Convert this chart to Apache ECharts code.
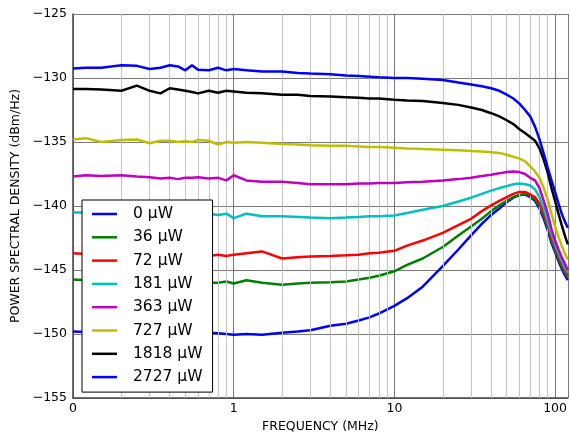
<!DOCTYPE html>
<html>
<head>
<meta charset="utf-8">
<script src="https://cdn.jsdelivr.net/npm/echarts@6/dist/echarts.min.js"></script>
<style>
  html, body { margin: 0; padding: 0; background: #fff; }
  #chart { width: 570px; height: 438px; }
</style>
</head>
<body>
<div id="chart"></div>
<script>
// frequency points (MHz) shared by all traces
var freqs = [0.1, 0.12, 0.15, 0.2, 0.25, 0.3, 0.35, 0.4, 0.45, 0.5,
  0.55, 0.6, 0.7, 0.8, 0.9, 1, 1.2, 1.5, 2, 2.5,
  3, 4, 5, 6, 7, 8, 10, 12, 15, 20,
  25, 30, 35, 40, 45, 50, 55, 60, 65, 70,
  75, 80, 85, 90, 95, 100, 105, 110, 115, 120]

// power spectral density, dBm/Hz
var p0 = [-149.8, -149.85, -149.9, -149.85, -149.95, -149.9, -150.0, -149.9, -150.0, -149.95,
  -149.9, -150.0, -149.9, -149.95, -150.0, -150.05, -150.0, -150.05, -149.9, -149.8,
  -149.7, -149.35, -149.2, -148.95, -148.7, -148.4, -147.8, -147.2, -146.3, -144.7,
  -143.4, -142.3, -141.4, -140.7, -140.2, -139.7, -139.35, -139.15, -139.1, -139.3,
  -139.6, -140.2, -141.0, -141.9, -142.9, -143.6, -144.3, -144.9, -145.4, -145.8]
var p36 = [-145.75, -145.8, -145.85, -145.9, -145.85, -145.95, -145.9, -146.0, -145.9, -146.0,
  -145.95, -146.0, -146.0, -146.0, -145.9, -146.05, -145.8, -146.0, -146.15, -146.05,
  -146.0, -145.95, -145.9, -145.75, -145.6, -145.45, -145.1, -144.6, -144.1, -143.2,
  -142.3, -141.6, -141.0, -140.4, -139.95, -139.6, -139.3, -139.15, -139.05, -139.2,
  -139.5, -140.0, -140.8, -141.7, -142.7, -143.4, -144.1, -144.7, -145.2, -145.6]
var p72 = [-143.7, -143.75, -143.8, -143.85, -143.8, -143.9, -143.85, -143.9, -143.8, -143.9,
  -143.85, -143.9, -143.9, -143.8, -143.9, -143.8, -143.7, -143.55, -144.1, -144.0,
  -143.95, -143.9, -143.85, -143.8, -143.7, -143.65, -143.5, -143.1, -142.7, -142.1,
  -141.5, -141.0, -140.4, -139.95, -139.6, -139.3, -139.05, -138.9, -138.9, -139.1,
  -139.3, -139.8, -140.6, -141.5, -142.5, -143.2, -143.9, -144.5, -145.0, -145.4]
var p181 = [-140.5, -140.5, -140.55, -140.5, -140.6, -140.55, -140.6, -140.5, -140.6, -140.55,
  -140.6, -140.55, -140.6, -140.7, -140.6, -140.95, -140.6, -140.8, -140.8, -140.85,
  -140.9, -140.95, -140.9, -140.85, -140.8, -140.8, -140.75, -140.55, -140.3, -140.0,
  -139.65, -139.35, -139.05, -138.8, -138.6, -138.45, -138.3, -138.25, -138.3, -138.4,
  -138.7, -139.3, -140.2, -141.2, -142.2, -143.0, -143.7, -144.3, -144.8, -145.2]
var p363 = [-137.7, -137.6, -137.65, -137.6, -137.7, -137.75, -137.85, -137.8, -137.9, -137.8,
  -137.8, -137.75, -137.85, -137.8, -138.0, -137.6, -138.0, -138.1, -138.1, -138.2,
  -138.3, -138.3, -138.3, -138.25, -138.25, -138.2, -138.2, -138.15, -138.1, -138.0,
  -137.9, -137.8, -137.65, -137.55, -137.45, -137.35, -137.3, -137.35, -137.5, -137.8,
  -138.0, -138.6, -139.6, -140.6, -141.8, -142.7, -143.4, -144.0, -144.5, -145.0]
var p727 = [-134.8, -134.7, -135.0, -134.85, -134.8, -135.1, -134.9, -134.9, -135.0, -134.95,
  -135.0, -134.85, -134.9, -135.2, -135.0, -135.05, -135.0, -135.05, -135.15, -135.2,
  -135.25, -135.3, -135.3, -135.35, -135.4, -135.4, -135.45, -135.5, -135.55, -135.6,
  -135.65, -135.7, -135.75, -135.8, -135.85, -136.0, -136.15, -136.3, -136.5, -136.9,
  -137.3, -137.8, -138.6, -139.5, -140.6, -141.6, -142.4, -143.1, -143.7, -144.2]
var p1818 = [-130.85, -130.85, -130.9, -131.0, -130.6, -131.0, -131.2, -130.8, -130.9, -131.0,
  -131.1, -131.2, -131.0, -131.15, -131.0, -131.05, -131.15, -131.2, -131.3, -131.3,
  -131.4, -131.45, -131.5, -131.55, -131.6, -131.6, -131.7, -131.75, -131.8, -131.95,
  -132.1, -132.3, -132.5, -132.75, -133.0, -133.3, -133.6, -134.0, -134.3, -134.6,
  -134.9, -135.5, -136.4, -137.4, -138.6, -139.6, -140.6, -141.5, -142.3, -143.0]
var p2727 = [-129.25, -129.2, -129.2, -129.0, -129.05, -129.3, -129.2, -129.0, -129.1, -129.4,
  -129.0, -129.35, -129.4, -129.2, -129.4, -129.3, -129.4, -129.5, -129.5, -129.6,
  -129.65, -129.7, -129.8, -129.85, -129.9, -129.95, -130.0, -130.0, -130.05, -130.15,
  -130.35, -130.5, -130.65, -130.8, -131.0, -131.3, -131.6, -132.0, -132.5, -133.0,
  -133.8, -134.8, -135.9, -137.0, -138.0, -138.9, -139.8, -140.6, -141.2, -141.7]

var names = ['0 µW', '36 µW', '72 µW', '181 µW', '363 µW', '727 µW', '1818 µW', '2727 µW']
var colors = ['#0000ff', '#008000', '#ff0000', '#00bfbf', '#bf00bf', '#bfbf00', '#000000', '#0000ff']
var traces = [p0, p36, p72, p181, p363, p727, p1818, p2727]

// light vertical grid lines between decades
var minorFreqs = [0.2, 0.3, 0.4, 0.5, 0.6, 0.7, 0.8, 0.9,
  2, 3, 4, 5, 6, 7, 8, 9, 20, 30, 40, 50, 60, 70, 80, 90]

var font = 'DejaVu Sans'

var series = [{
  name: 'grid',
  type: 'line',
  data: [],
  z: 1,
  markLine: {
    silent: true,
    animation: false,
    symbol: ['none', 'none'],
    label: {show: false},
    lineStyle: {color: '#c4c4c4', type: 'solid', width: 1},
    data: minorFreqs.map(function (f) { return {xAxis: f} })
  }
}]
traces.forEach(function (vals, k) {
  series.push({
    name: names[k],
    type: 'line',
    showSymbol: false,
    symbol: 'none',
    z: 3 + k,
    color: colors[k],
    lineStyle: {color: colors[k], width: 2.5},
    data: freqs.map(function (f, i) { return [f, vals[i]] })
  })
})

var chart = echarts.init(document.getElementById('chart'))
chart.setOption({
  animation: false,
  backgroundColor: '#fff',
  grid: {left: 73, top: 14, width: 499, height: 386},
  legend: {
    data: names,
    z: 20,
    orient: 'vertical',
    left: 82,
    top: 200,
    icon: 'rect',
    itemWidth: 25,
    itemHeight: 2.5,
    itemGap: 7.3,
    padding: [6, 10, 7, 10],
    borderColor: '#000',
    borderWidth: 1,
    borderRadius: 0,
    backgroundColor: '#fff',
    textStyle: {fontFamily: font, fontSize: 15.5, color: '#000', padding: [0, 0, 0, 11]}
  },
  xAxis: {
    type: 'log',
    logBase: 10,
    min: 0.1,
    max: 120,
    name: 'FREQUENCY (MHz)',
    nameLocation: 'middle',
    nameGap: 22,
    nameTextStyle: {fontFamily: font, fontSize: 12.5, color: '#000'},
    axisLine: {show: true, lineStyle: {color: '#444', width: 1.5}},
    axisTick: {show: false},
    axisLabel: {
      fontFamily: font, fontSize: 12.5, color: '#000', margin: 4,
      showMaxLabel: false,
      formatter: function (v) {
        if (Math.abs(v - 0.1) < 1e-9) return '0'
        if (Math.abs(v - 1) < 1e-9) return '1'
        if (Math.abs(v - 10) < 1e-9) return '10'
        if (Math.abs(v - 100) < 1e-9) return '100'
        return ''
      }
    },
    splitLine: {show: true, lineStyle: {color: '#7a7a7a', width: 1}}
  },
  yAxis: {
    type: 'value',
    min: -155,
    max: -125,
    interval: 5,
    name: 'POWER SPECTRAL DENSITY (dBm/Hz)',
    nameLocation: 'middle',
    nameGap: 45,
    nameTextStyle: {fontFamily: font, fontSize: 12.5, color: '#000'},
    axisLine: {show: true, lineStyle: {color: '#444', width: 1.5}},
    axisTick: {show: false},
    axisLabel: {
      fontFamily: font, fontSize: 12.5, color: '#000', margin: 6,
      formatter: function (v) { return v < 0 ? '\u2212' + Math.abs(v) : String(v) }
    },
    splitLine: {show: true, lineStyle: {color: '#7a7a7a', width: 1}}
  },
  series: series
})
</script>
</body>
</html>
